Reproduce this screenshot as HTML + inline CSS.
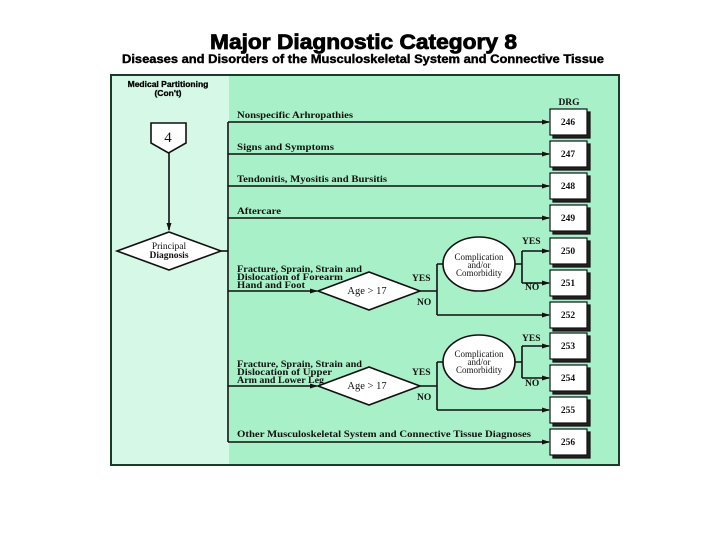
<!DOCTYPE html>
<html><head><meta charset="utf-8"><style>
html,body{margin:0;padding:0;background:#fff;width:720px;height:540px;overflow:hidden}
svg{display:block}
.s{font-family:"Liberation Serif",serif;font-size:9.5px;fill:#111}
.b{font-family:"Liberation Sans",sans-serif;font-weight:bold;fill:#000}
</style></head><body>
<svg width="720" height="540" viewBox="0 0 720 540" xmlns="http://www.w3.org/2000/svg">
<defs><marker id="a" markerWidth="8" markerHeight="6" refX="7" refY="3" orient="auto" markerUnits="userSpaceOnUse"><path d="M0,0.5 L8,3 L0,5.5z" fill="#111"/></marker></defs>
<text x="210" y="49" class="b" font-size="21" stroke="#000" stroke-width="0.8" textLength="307" lengthAdjust="spacingAndGlyphs">Major Diagnostic Category 8</text>
<text x="122" y="63" class="b" font-size="11.5" stroke="#000" stroke-width="0.4" textLength="482" lengthAdjust="spacingAndGlyphs">Diseases and Disorders of the Musculoskeletal System and Connective Tissue</text>
<rect x="111" y="75" width="508" height="390" fill="#a8f0c8" stroke="#1a3a2a" stroke-width="2"/>
<rect x="112" y="76" width="117" height="388" fill="#d6f8e6"/>
<text x="168" y="87" text-anchor="middle" class="b" font-size="8.5" stroke="#000" stroke-width="0.3">Medical Partitioning</text>
<text x="168" y="96" text-anchor="middle" class="b" font-size="8.5" stroke="#000" stroke-width="0.3">(Con't)</text>
<text x="569" y="105" text-anchor="middle" class="s" font-weight="bold" font-size="10">DRG</text>
<g stroke="#111" stroke-width="1.6" fill="none">
<path d="M151,123 H186 V143 L168.5,153 L151,143 Z" fill="#fff"/>
<line x1="169" y1="153" x2="169" y2="230" marker-end="url(#a)"/>
<path d="M117,251 L169,232 L221,251 L169,270 Z" fill="#fff"/>
<path d="M221,251 H228"/>
<line x1="228" y1="122" x2="228" y2="442"/>
<line x1="228" y1="122" x2="549" y2="122" marker-end="url(#a)"/>
<line x1="228" y1="154" x2="549" y2="154" marker-end="url(#a)"/>
<line x1="228" y1="186" x2="549" y2="186" marker-end="url(#a)"/>
<line x1="228" y1="218" x2="549" y2="218" marker-end="url(#a)"/>
<line x1="228" y1="442" x2="549" y2="442" marker-end="url(#a)"/>
<line x1="228" y1="291" x2="317" y2="291" marker-end="url(#a)"/>
<path d="M318,291 L369,272 L420,291 L369,310 Z" fill="#fff"/>
<path d="M420,291 H437 M437,264 V315 M437,264 H443"/>
<line x1="437" y1="315" x2="549" y2="315" marker-end="url(#a)"/>
<ellipse cx="479" cy="264" rx="36" ry="27" fill="#fff"/>
<path d="M515,264 H522 M522,251 V283"/>
<line x1="522" y1="251" x2="549" y2="251" marker-end="url(#a)"/>
<line x1="522" y1="283" x2="549" y2="283" marker-end="url(#a)"/>
<line x1="228" y1="386" x2="317" y2="386" marker-end="url(#a)"/>
<path d="M318,386 L369,367 L420,386 L369,405 Z" fill="#fff"/>
<path d="M420,386 H437 M437,362 V410 M437,362 H443"/>
<line x1="437" y1="410" x2="549" y2="410" marker-end="url(#a)"/>
<ellipse cx="479" cy="362" rx="36" ry="27" fill="#fff"/>
<path d="M515,362 H522 M522,346 V378"/>
<line x1="522" y1="346" x2="549" y2="346" marker-end="url(#a)"/>
<line x1="522" y1="378" x2="549" y2="378" marker-end="url(#a)"/>
</g>
<g font-family="Liberation Serif,serif" font-size="9.5" text-anchor="middle" fill="#111">
<g stroke="#111" stroke-width="1.2">
<rect x="553" y="112" width="37" height="26" fill="#222"/><rect x="550" y="109" width="37" height="26" fill="#fff"/>
<rect x="553" y="144" width="37" height="26" fill="#222"/><rect x="550" y="141" width="37" height="26" fill="#fff"/>
<rect x="553" y="176" width="37" height="26" fill="#222"/><rect x="550" y="173" width="37" height="26" fill="#fff"/>
<rect x="553" y="208" width="37" height="26" fill="#222"/><rect x="550" y="205" width="37" height="26" fill="#fff"/>
<rect x="553" y="241" width="37" height="26" fill="#222"/><rect x="550" y="238" width="37" height="26" fill="#fff"/>
<rect x="553" y="273" width="37" height="26" fill="#222"/><rect x="550" y="270" width="37" height="26" fill="#fff"/>
<rect x="553" y="305" width="37" height="26" fill="#222"/><rect x="550" y="302" width="37" height="26" fill="#fff"/>
<rect x="553" y="336" width="37" height="26" fill="#222"/><rect x="550" y="333" width="37" height="26" fill="#fff"/>
<rect x="553" y="368" width="37" height="26" fill="#222"/><rect x="550" y="365" width="37" height="26" fill="#fff"/>
<rect x="553" y="400" width="37" height="26" fill="#222"/><rect x="550" y="397" width="37" height="26" fill="#fff"/>
<rect x="553" y="432" width="37" height="26" fill="#222"/><rect x="550" y="429" width="37" height="26" fill="#fff"/>
</g>
<g font-weight="bold">
<text x="568" y="125">246</text><text x="568" y="157">247</text><text x="568" y="189">248</text><text x="568" y="221">249</text>
<text x="568" y="254">250</text><text x="568" y="286">251</text><text x="568" y="318">252</text><text x="568" y="349">253</text>
<text x="568" y="381">254</text><text x="568" y="413">255</text><text x="568" y="445">256</text>
</g>
<text x="168" y="142" font-size="15">4</text>
<text x="169" y="249" font-size="9.5">Principal</text>
<text x="169" y="258" font-size="9.5" font-weight="bold">Diagnosis</text>
<text x="367" y="294" font-size="10.5">Age &gt; 17</text>
<text x="367" y="389" font-size="10.5">Age &gt; 17</text>
<text x="479" y="260" font-size="9">Complication</text><text x="479" y="268" font-size="9">and/or</text><text x="479" y="276" font-size="9">Comorbidity</text>
<text x="479" y="357" font-size="9">Complication</text><text x="479" y="365" font-size="9">and/or</text><text x="479" y="373" font-size="9">Comorbidity</text>
</g>
<g class="s" font-size="7.5" font-weight="bold">
<text x="412" y="281">YES</text><text x="417" y="305">NO</text>
<text x="412" y="375">YES</text><text x="417" y="400">NO</text>
<text x="522" y="244">YES</text><text x="525" y="290">NO</text>
<text x="522" y="341">YES</text><text x="525" y="386">NO</text>
</g>
<g class="s" font-weight="bold">
<text x="237" y="118" textLength="116" lengthAdjust="spacingAndGlyphs">Nonspecific Arhropathies</text>
<text x="237" y="150" textLength="97" lengthAdjust="spacingAndGlyphs">Signs and  Symptoms</text>
<text x="237" y="182" textLength="150" lengthAdjust="spacingAndGlyphs">Tendonitis, Myositis and Bursitis</text>
<text x="237" y="214" textLength="44" lengthAdjust="spacingAndGlyphs">Aftercare</text>
<text x="237" y="272" textLength="125" lengthAdjust="spacingAndGlyphs">Fracture, Sprain, Strain and</text>
<text x="237" y="280" textLength="106" lengthAdjust="spacingAndGlyphs">Dislocation of Forearm</text>
<text x="237" y="288" textLength="68" lengthAdjust="spacingAndGlyphs">Hand and Foot</text>
<text x="237" y="367" textLength="125" lengthAdjust="spacingAndGlyphs">Fracture, Sprain, Strain and</text>
<text x="237" y="375" textLength="95" lengthAdjust="spacingAndGlyphs">Dislocation of Upper</text>
<text x="237" y="383" textLength="87" lengthAdjust="spacingAndGlyphs">Arm and Lower Leg</text>
<text x="237" y="437" textLength="294" lengthAdjust="spacingAndGlyphs">Other Musculoskeletal System and Connective Tissue Diagnoses</text>
</g>
</svg>
</body></html>
